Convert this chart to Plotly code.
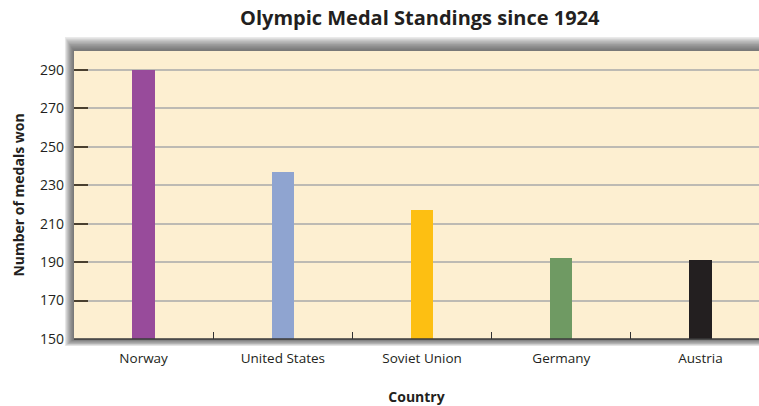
import plotly.graph_objects as go

countries = ["Norway", "United States", "Soviet Union", "Germany", "Austria"]
medals = [290, 237, 217, 192, 191]
bar_colors = ["#984B9B", "#8FA4D0", "#FDBF12", "#6F9A63", "#231F20"]
y_ticks = [150, 170, 190, 210, 230, 250, 270, 290]

fig = go.Figure()
fig.add_trace(go.Bar(
    x=countries, y=medals, marker=dict(color=bar_colors, line=dict(width=0)),
    width=0.16, hoverinfo="x+y",
))

shapes = []
# soft shadow around plot area
for i in range(10):
    d = (10 - i) * 0.0022
    shapes.append(dict(type="rect", xref="paper", yref="paper", layer="below",
                       x0=-d * 0.6, x1=1.0, y0=-d * 1.1, y1=1 + d * 2.2,
                       fillcolor="rgba(60,60,60,0.11)", line=dict(width=0)))
shapes.append(dict(type="rect", xref="paper", yref="paper", layer="below",
                   x0=0, x1=1, y0=0, y1=1, fillcolor="#FDEFD1", line=dict(width=0)))
shapes.append(dict(type="line", xref="paper", yref="paper", x0=0, x1=1, y0=0, y1=0,
                   line=dict(color="#3a3a3a", width=1.5)))

fig.update_layout(
    width=759, height=406,
    margin=dict(l=74, r=0, t=51, b=67),
    paper_bgcolor="white",
    plot_bgcolor="rgba(0,0,0,0)",
    shapes=shapes,
    showlegend=False,
    bargap=0,
    title=dict(text="<b>Olympic Medal Standings since 1924</b>",
               x=0.553, xanchor="center", y=0.955, yanchor="middle",
               font=dict(family="Open Sans", size=20, color="#231F20")),
    font=dict(family="Open Sans", color="#231F20", size=13),
    xaxis=dict(
        range=[-0.5, 4.42], type="category",
        showgrid=False, ticks="inside", tickson="boundaries", ticklen=7,
        tickcolor="#333", tickwidth=1.2, showline=False,
        tickfont=dict(size=13.5), ticklabelstandoff=9,
        title=dict(text="<b>Country</b>", font=dict(size=14), standoff=26),
    ),
    yaxis=dict(
        range=[150, 299.9], tickvals=y_ticks,
        showgrid=True, gridcolor="#BDBAB3", gridwidth=1.5,
        ticks="inside", ticklen=14, tickcolor="#4a4030", tickwidth=1.5,
        showline=False, zeroline=False,
        tickfont=dict(size=14), ticklabelstandoff=9,
        title=dict(text="<b>Number of medals won</b>", font=dict(size=14), standoff=12),
    ),
)

fig.write_html("out.html", config={"displayModeBar": False},
               post_script="document.body.style.margin='0';")
